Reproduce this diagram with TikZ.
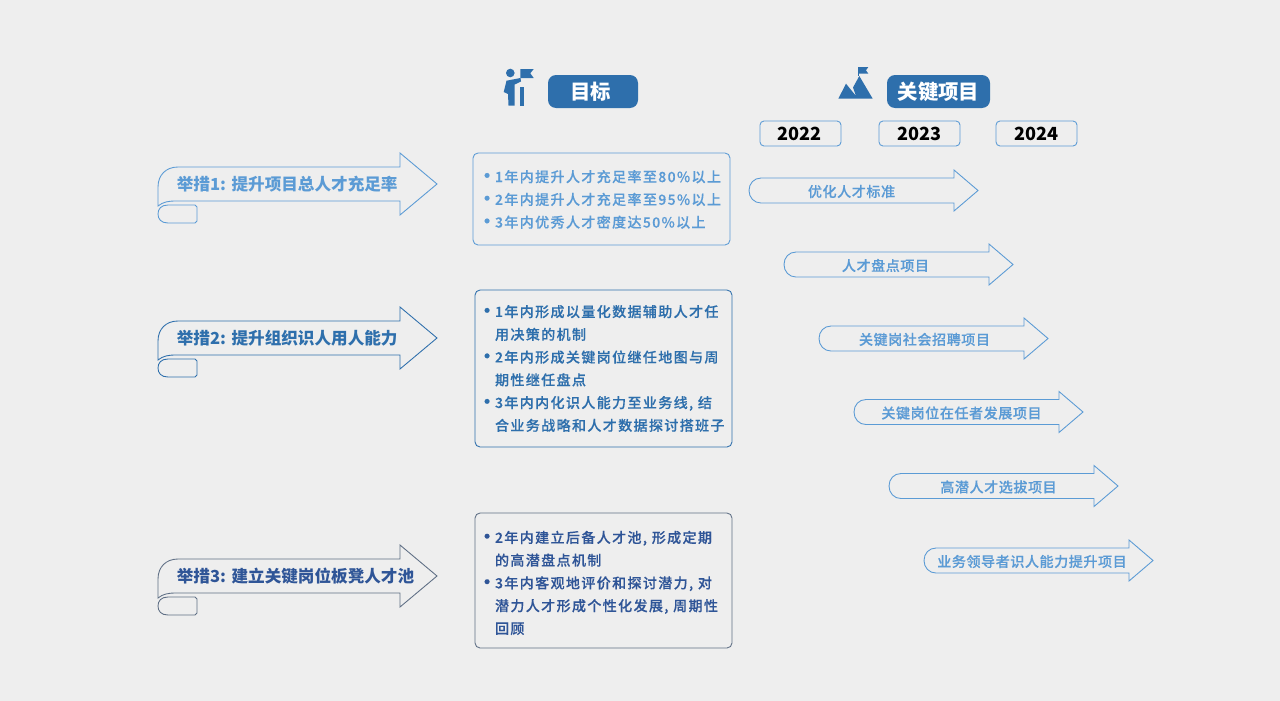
\documentclass[tikz,border=0pt]{standalone}
\usepackage{fontspec}
\usepackage{xcolor}
\usepackage{tikz}
\setmainfont{Noto Sans CJK SC}
\newfontfamily\goalfont{Noto Sans CJK SC Medium}[LetterSpace=9.5,FakeBold=0.2]
\newfontfamily\projfont{Noto Sans CJK SC Medium}[LetterSpace=4,FakeBold=0.15]
\definecolor{PageGrey}{HTML}{EEEEEE}
\definecolor{SkyBlue}{HTML}{5B9BD5}
\definecolor{MidBlue}{HTML}{2E6FAC}
\definecolor{DeepBlue}{HTML}{2F5597}
\definecolor{SlateLine}{HTML}{5F6F85}

% ribbon arrow: name, mid y, line colour, text colour, text
\newcommand{\mainarrow}[5]{
  \draw[#3, line width=.5pt, shift={(158,#2)}]
    (0,22) .. controls (5,18) and (10,17) .. (18,17) -- (242,17) -- (242,31) -- (279,0)
    -- (242,-31) -- (242,-17) -- (20,-17) .. controls (8,-17) and (0,-9) .. (0,3) -- cycle;
  \draw[#3, line width=.5pt, shift={(158,#2)}]
    (10,21) -- (37,21) -- (39,23) -- (39,37) -- (37,39) -- (10,39)
    .. controls (3,39) and (0,35) .. (0,30) .. controls (0,25) and (3,21) .. (10,21) -- cycle;
  \node[anchor=west, inner sep=0pt, text=#4, font=\fontsize{9.45}{11}\selectfont\bfseries] (#1) at (176.5,#2) {#5};
}
% project arrow: name, left x, mid y, text centre x, text
\newcommand{\projarrow}[5]{
  \draw[SkyBlue, line width=.5pt, shift={(#2,#3)}]
    (12,12.5) -- (205,12.5) -- (205,20.5) -- (229,0) -- (205,-20.5) -- (205,-12.5) -- (12,-12.5)
    .. controls (5,-12.5) and (0,-7) .. (0,0) .. controls (0,7) and (5,12.5) .. (12,12.5) -- cycle;
  \node[text=SkyBlue, font=\fontsize{8}{10}\projfont] (#1) at (#4,#3+1) {#5};
}
\newcommand{\bul}{\makebox[.18cm][l]{\hspace*{-.19cm}\raisebox{-.8pt}{\fontsize{12}{12}\selectfont•}}}
\newcommand{\nobul}{\hspace*{.18cm}}

\tikzset{
  titlebox/.style={fill=MidBlue, rounded corners=.16cm, text=white, minimum height=.66cm,
                   inner sep=0pt, font=\fontsize{11.6}{13}\selectfont\bfseries},
  yearbox/.style={draw=SkyBlue, line width=.5pt, rounded corners=.08cm, minimum width=1.62cm,
                  minimum height=.5cm, inner sep=0pt, text=black,
                  font=\fontsize{10.3}{13}\selectfont\bfseries},
  goalbox/.style={line width=.5pt, rounded corners=.1cm, text width=4.7cm, minimum width=5.14cm,
                  inner xsep=.22cm, inner ysep=0pt, align=left,
                  font=\fontsize{8}{12.95}\goalfont}
}

\begin{document}
\begin{tikzpicture}[x=.02cm, y=-.02cm]
\useasboundingbox (0,0) rectangle (1280,700);
\fill[PageGrey] (-5,-5) rectangle (1285,705);

% column titles
\node[titlebox, minimum width=1.8cm] (goaltitle) at (593,91.5) {目标\kern.1cm};
\node[titlebox, minimum width=2.06cm] (projtitle) at (938.5,91.5) {关键项目};

% person with flag
\fill[MidBlue] (510.3,73) circle (4.3);
\fill[MidBlue] (506.5,80.7) -- (520.5,78) -- (521,81.5) -- (514.7,84.5) -- (514.7,105.7) -- (508.5,105.7)
  -- (508,94) -- (503.7,92) -- cycle;
\fill[MidBlue] (520.3,86.7) rectangle (523.7,105.7);
\fill[MidBlue] (520.3,69) -- (533.7,69) -- (530.3,73.3) -- (533.7,78) -- (520.3,78) -- cycle;

% mountain with flag
\fill[MidBlue] (838.3,98.7) -- (846,83.7) -- (851.5,90.5) -- (856,96) -- (853,87.5) -- (859.3,76)
  -- (872.7,98.7) -- cycle;
\fill[MidBlue] (858.3,67) rectangle (859.3,76);
\fill[MidBlue] (858.3,67) -- (868.3,67) -- (866,70.3) -- (868.3,73.7) -- (858.3,73.7) -- cycle;

% years
\node[yearbox] (y2022) at (800.5,133.5) {2022\kern.03cm};
\node[yearbox] (y2023) at (919.5,133.5) {2023};
\node[yearbox] (y2024) at (1036.5,133.5) {2024};

% measures
\mainarrow{measure1}{184}{SkyBlue}{SkyBlue}{举措1:\kern1pt\ 提升项目总人才充足率}
\mainarrow{measure2}{338}{MidBlue}{MidBlue}{举措2:\kern1pt\ 提升组织识人用人能力}
\mainarrow{measure3}{576}{SlateLine}{DeepBlue}{举措3:\kern1pt\ 建立关键岗位板凳人才池}

% goals
\node[goalbox, draw=SkyBlue, text=SkyBlue, minimum height=1.84cm, text width=4.62cm, inner xsep=.26cm]
  (goal1) at (601.5,199) {%
  \rule{0pt}{7.4pt}\bul 1年内提升人才充足率至80\%以上\\
  \bul 2年内提升人才充足率至95\%以上\\
  \bul 3年内优秀人才密度达50\%以上};
\node[goalbox, draw=MidBlue, text=MidBlue, minimum height=3.14cm] (goal2) at (603.5,368.5) {%
  \bul 1年内形成以量化数据辅助人才任\\
  \nobul 用决策的机制\\
  \bul 2年内形成关键岗位继任地图与周\\
  \nobul 期性继任盘点\\
  \bul 3年内内化识人能力至业务线, 结\\
  \nobul 合业务战略和人才数据探讨搭班子};
\node[goalbox, draw=SlateLine, text=DeepBlue, minimum height=2.7cm] (goal3) at (603.5,580.5) {%
  \rule{0pt}{9.6pt}\bul 2年内建立后备人才池, 形成定期\\
  \nobul 的高潜盘点机制\\
  \bul 3年内客观地评价和探讨潜力, 对\\
  \nobul 潜力人才形成个性化发展, 周期性\\
  \nobul 回顾};

% key projects
\projarrow{proj1}{749}{190.5}{851.5}{优化人才标准}
\projarrow{proj2}{784}{264.5}{885.5}{人才盘点项目}
\projarrow{proj3}{819}{338.5}{924.5}{关键岗社会招聘项目}
\projarrow{proj4}{854}{412}{961.5}{关键岗位在任者发展项目}
\projarrow{proj5}{889}{486}{998.5}{高潜人才选拔项目}
\projarrow{proj6}{924}{560.5}{1032}{业务领导者识人能力提升项目}
\end{tikzpicture}
\end{document}
